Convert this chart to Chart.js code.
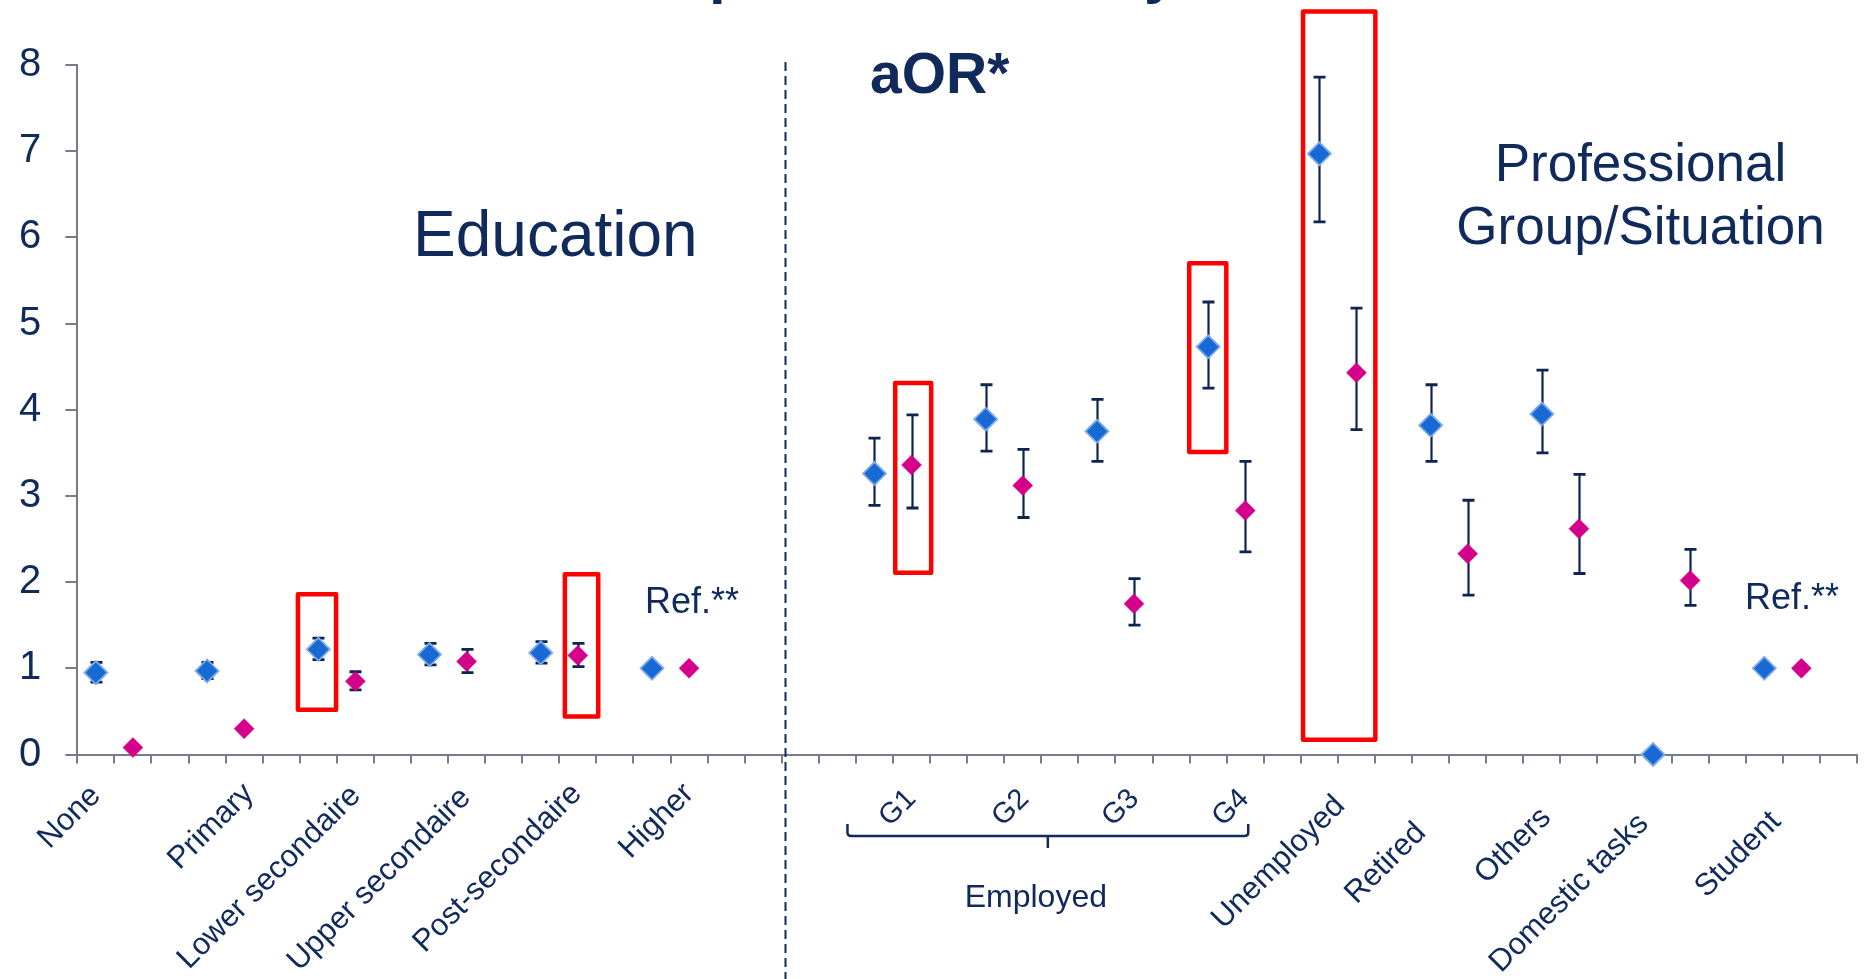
<!DOCTYPE html>
<html>
<head>
<meta charset="utf-8">
<script src="https://cdn.jsdelivr.net/npm/chart.js@4.4.1/dist/chart.umd.min.js"></script>
<style>
html,body{margin:0;padding:0;background:#ffffff;overflow:hidden}
#wrap{position:relative;width:1876px;height:979px}
canvas{display:block}
</style>
</head>
<body>
<div id="wrap"><canvas id="c" width="1876" height="979"></canvas></div>
<script>
// ---------------- DATA ----------------
const eduCategories = ['None', 'Primary', 'Lower secondaire', 'Upper secondaire', 'Post-secondaire', 'Higher'];
const eduBlue   = [0.95, 0.97, 1.22, 1.16, 1.18, 1.00];
const eduBlueLo = [0.84, 0.88, 1.10, 1.04, 1.06, null];
const eduBlueHi = [1.07, 1.07, 1.35, 1.29, 1.31, null];
const eduPink   = [0.08, 0.30, 0.85, 1.08, 1.15, 1.00];
const eduPinkLo = [null, null, 0.75, 0.95, 1.02, null];
const eduPinkHi = [null, null, 0.96, 1.22, 1.29, null];

const proCategories = ['G1', 'G2', 'G3', 'G4', 'Unemployed', 'Retired', 'Others', 'Domestic tasks', 'Student'];
const proBlue   = [3.26, 3.89, 3.75, 4.73, 6.97, 3.82, 3.95, 0.00, 1.00];
const proBlueLo = [2.89, 3.52, 3.40, 4.25, 6.18, 3.40, 3.50, null, null];
const proBlueHi = [3.67, 4.29, 4.12, 5.25, 7.86, 4.29, 4.46, null, null];
const proPink   = [3.36, 3.12, 1.75, 2.83, 4.43, 2.33, 2.62, 2.02, 1.00];
const proPinkLo = [2.86, 2.75, 1.50, 2.35, 3.77, 1.85, 2.10, 1.73, null];
const proPinkHi = [3.94, 3.54, 2.04, 3.40, 5.18, 2.95, 3.25, 2.38, null];

const yTicks = [0, 1, 2, 3, 4, 5, 6, 7, 8];
const employedGroup = ['G1', 'G2', 'G3', 'G4'];

// ---------------- LAYOUT / STYLE ----------------
const FONT = "'Liberation Sans', Arial, Helvetica, sans-serif";
const NAVY = '#102a5c';
const AXIS = '#7a7b8a';
const EBAR = '#0e2452';
const BLUE = '#1769d4';
const BLUE_EDGE = '#7eaaea';
const PINK = '#d4008b';
const RED = '#ff0000';

const SLOTS = 48;          // slots along x axis (one marker per slot)
const EDU_START = 0;       // first slot of the education block
const PRO_START = 21;      // first slot of the professional block
const GROUP = 3;           // slots per category (blue, pink, gap)
const DIVIDER = 19.09;     // dashed divider position (slot units)

// label anchor nudges (px) relative to the blue marker slot centre / axis line
const eduLabelNudge = [[6, 42.5], [48, 40.5], [43.7, 42.5], [42.5, 44.5], [42.3, 40.5], [43.1, 40.5]];
const proLabelNudge = [[42.7, 45.5], [44.5, 45.5], [43.3, 45.5], [42.1, 45.5], [26.9, 52.5], [-3.5, 79.5], [10.3, 64.5], [-3.4, 70.5], [17.7, 68.5]];

// highlight boxes (x in slot units, y in aOR units)
const highlightBoxes = [
  {x0: 5.95, x1: 6.98, y0: 0.52, y1: 1.86},
  {x0: 13.15, x1: 14.05, y0: 0.44, y1: 2.09},
  {x0: 22.06, x1: 23.03, y0: 2.11, y1: 4.31},
  {x0: 29.99, x1: 30.99, y0: 3.51, y1: 5.70},
  {x0: 33.06, x1: 35.01, y0: 0.17, y1: 8.62}
];

// ---------------- BUILD SERIES ----------------
const eduX = eduCategories.map((_, i) => EDU_START + GROUP * i);
const proX = proCategories.map((_, j) => PRO_START + GROUP * j);
const allSlots = eduX.concat(proX);

const blueVals = eduBlue.concat(proBlue);
const blueLo = eduBlueLo.concat(proBlueLo);
const blueHi = eduBlueHi.concat(proBlueHi);
const pinkVals = eduPink.concat(proPink);
const pinkLo = eduPinkLo.concat(proPinkLo);
const pinkHi = eduPinkHi.concat(proPinkHi);

const blueData = blueVals.map((v, k) => ({x: allSlots[k] + 0.5, y: v}));
const pinkData = pinkVals.map((v, k) => ({x: allSlots[k] + 1.5, y: v}));

// ---------------- PLUGINS ----------------
const errorBars = {
  id: 'errorBars',
  beforeDatasetsDraw(chart) {
    const {ctx, scales: {x, y}} = chart;
    ctx.save();
    ctx.strokeStyle = EBAR;
    const series = [[blueData, blueLo, blueHi], [pinkData, pinkLo, pinkHi]];
    series.forEach(([pts, lo, hi]) => {
      pts.forEach((p, k) => {
        if (lo[k] == null || hi[k] == null) return;
        const px = Math.round(x.getPixelForValue(p.x)) + 0.5;
        const yl = y.getPixelForValue(lo[k]);
        const yh = y.getPixelForValue(hi[k]);
        ctx.lineWidth = 2.2;
        ctx.beginPath();
        ctx.moveTo(px, yh); ctx.lineTo(px, yl);
        ctx.stroke();
        ctx.lineWidth = 2.8;
        ctx.beginPath();
        ctx.moveTo(px - 6, yh); ctx.lineTo(px + 6, yh);
        ctx.moveTo(px - 6, yl); ctx.lineTo(px + 6, yl);
        ctx.stroke();
      });
    });
    ctx.restore();
  }
};

const decorations = {
  id: 'decorations',
  beforeDatasetsDraw(chart) {
    const {ctx, scales: {x}, chartArea} = chart;
    // dashed divider
    ctx.save();
    ctx.strokeStyle = NAVY;
    ctx.lineWidth = 2;
    ctx.setLineDash([9, 5]);
    const dx = Math.round(x.getPixelForValue(DIVIDER)) + 0.5;
    ctx.beginPath();
    ctx.moveTo(dx, chartArea.top - 3);
    ctx.lineTo(dx, chart.height);
    ctx.stroke();
    ctx.restore();
  },
  afterDatasetsDraw(chart) {
    const {ctx, scales: {x, y}} = chart;
    const axisY = y.getPixelForValue(0);

    // highlight boxes
    ctx.save();
    ctx.strokeStyle = RED;
    ctx.lineWidth = 4.5;
    ctx.lineJoin = 'round';
    highlightBoxes.forEach(b => {
      const x0 = x.getPixelForValue(b.x0), x1 = x.getPixelForValue(b.x1);
      const y0 = y.getPixelForValue(b.y1), y1 = y.getPixelForValue(b.y0);
      ctx.strokeRect(x0, y0, x1 - x0, y1 - y0);
    });
    ctx.restore();

    ctx.save();
    ctx.fillStyle = NAVY;

    // partially visible title (descenders only)
    ctx.font = 'bold 60px ' + FONT;
    ctx.textBaseline = 'alphabetic';
    ctx.textAlign = 'left';
    ctx.fillText('p', 709, -7.6);
    ctx.fillText('y', 1144, -7.6);

    // aOR*
    ctx.font = 'bold 57px ' + FONT;
    ctx.fillText('aOR*', 870, 93);

    // Section titles
    ctx.font = '64px ' + FONT;
    ctx.fillText('Education', 413, 256);
    ctx.font = '53px ' + FONT;
    ctx.textAlign = 'center';
    ctx.fillText('Professional', 1640.5, 180.5);
    ctx.fillText('Group/Situation', 1640.5, 243.7);

    // Ref.** labels
    ctx.font = '36px ' + FONT;
    ctx.textAlign = 'left';
    ctx.fillText('Ref.**', 645, 613);
    ctx.fillText('Ref.**', 1745, 609);

    // rotated category labels
    const drawRot = (txt, px, py, size) => {
      ctx.save();
      ctx.font = size + 'px ' + FONT;
      ctx.translate(px, py);
      ctx.rotate(-Math.PI / 4);
      ctx.textAlign = 'right';
      ctx.textBaseline = 'alphabetic';
      ctx.fillText(txt, 0, 0);
      ctx.restore();
    };
    eduCategories.forEach((c, i) => {
      const px = x.getPixelForValue(eduX[i] + 0.5) + eduLabelNudge[i][0];
      drawRot(c, px, axisY + eduLabelNudge[i][1], 31);
    });
    proCategories.forEach((c, j) => {
      const px = x.getPixelForValue(proX[j] + 0.5) + proLabelNudge[j][0];
      const size = employedGroup.includes(c) ? 29 : 31;
      drawRot(c, px, axisY + proLabelNudge[j][1], size);
    });

    // Employed bracket
    const gIdx = employedGroup.map(g => proCategories.indexOf(g));
    const bl = x.getPixelForValue(proX[gIdx[0]] + 0.5) - 27;
    const br = x.getPixelForValue(proX[gIdx[gIdx.length - 1]] + 1.5) + 3;
    const bm = (bl + br) / 2;
    ctx.strokeStyle = NAVY;
    ctx.lineWidth = 2.5;
    ctx.lineJoin = 'round';
    ctx.beginPath();
    ctx.moveTo(bl, axisY + 69.5);
    ctx.lineTo(bl, axisY + 78);
    ctx.quadraticCurveTo(bl, axisY + 81.5, bl + 4, axisY + 81.5);
    ctx.lineTo(br - 4, axisY + 81.5);
    ctx.quadraticCurveTo(br, axisY + 81.5, br, axisY + 78);
    ctx.lineTo(br, axisY + 69.5);
    ctx.stroke();
    ctx.beginPath();
    ctx.moveTo(bm, axisY + 81.5);
    ctx.lineTo(bm, axisY + 93.5);
    ctx.stroke();
    ctx.font = '32px ' + FONT;
    ctx.textAlign = 'center';
    ctx.fillText('Employed', bm - 12, axisY + 152);
    ctx.restore();
  }
};

// ---------------- CHART ----------------
new Chart(document.getElementById('c'), {
  type: 'scatter',
  data: {
    datasets: [
      {
        label: 'blue',
        data: blueData,
        pointStyle: 'rectRot',
        pointRadius: 11.5,
        pointBackgroundColor: BLUE,
        pointBorderColor: BLUE_EDGE,
        pointBorderWidth: 1.8,
        showLine: false,
        clip: false
      },
      {
        label: 'pink',
        data: pinkData,
        pointStyle: 'rectRot',
        pointRadius: 10,
        pointBackgroundColor: PINK,
        pointBorderColor: PINK,
        pointBorderWidth: 0.5,
        showLine: false,
        clip: false
      }
    ]
  },
  options: {
    responsive: false,
    animation: false,
    devicePixelRatio: 1,
    events: [],
    layout: {padding: {top: 65, right: 19, left: 0, bottom: 0}},
    plugins: {legend: {display: false}, tooltip: {enabled: false}},
    scales: {
      x: {
        type: 'linear',
        min: 0,
        max: SLOTS,
        afterBuildTicks: s => { s.ticks = Array.from({length: SLOTS + 1}, (_, i) => ({value: i})); },
        ticks: {display: false},
        grid: {drawOnChartArea: false, drawTicks: true, tickLength: 9, color: AXIS, lineWidth: 2},
        border: {display: true, color: AXIS, width: 2},
        afterFit: s => { s.height = 224.5; }
      },
      y: {
        min: 0,
        max: 8,
        afterBuildTicks: s => { s.ticks = yTicks.map(v => ({value: v})); },
        ticks: {color: NAVY, font: {size: 40, family: FONT}, padding: 24},
        grid: {drawOnChartArea: false, drawTicks: true, tickLength: 12, color: AXIS, lineWidth: 2},
        border: {display: true, color: AXIS, width: 2},
        afterFit: s => { s.width = 77.3; }
      }
    }
  },
  plugins: [errorBars, decorations]
});
</script>
</body>
</html>
